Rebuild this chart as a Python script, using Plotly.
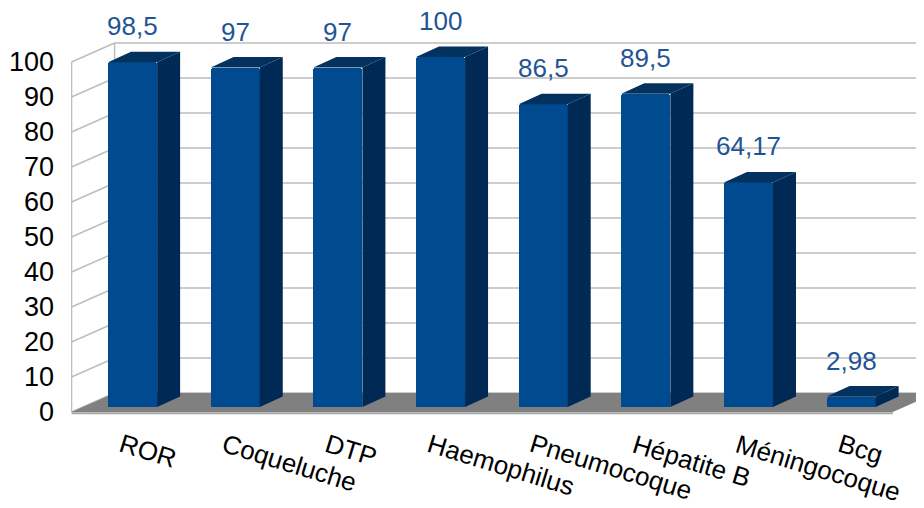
import plotly.graph_objects as go

# ---- data ----
categories = ["ROR", "Coqueluche", "DTP", "Haemophilus", "Pneumocoque",
              "Hépatite B", "Méningocoque", "Bcg"]
values = [98.5, 97, 97, 100, 86.5, 89.5, 64.17, 2.98]
value_labels = ["98,5", "97", "97", "100", "86,5", "89,5", "64,17", "2,98"]
y_ticks = [0, 10, 20, 30, 40, 50, 60, 70, 80, 90, 100]

# ---- pseudo-3D geometry (axis units) ----
FRONT = 1.4286     # front plane lies this far below the bar plane (value units)
BACK = 4.0         # back wall lies this far above the bar plane
WALL_FX = -0.5945  # left wall, front edge (category units)
WALL_BX = -0.1754  # left wall, back edge
FLOOR_FRX = 7.407  # floor right, front
FLOOR_BRX = 7.826  # floor right, back
BAR_W = 0.478
BAR_DX = 0.224
BAR_DY = 3.0

FRONT_COL = "#004a8f"
SIDE_COL = "#002a55"
TOP_COL = "#04325f"
GRID_COL = "#bdbdbd"
LABEL_COL = "#1f5596"
FONT = "Liberation Sans, Arial, sans-serif"

idx = list(range(len(categories)))
fig = go.Figure()

fig.add_trace(go.Bar(x=idx, y=values, width=BAR_W,
                     marker=dict(color=FRONT_COL, line=dict(width=0), cornerradius=3),
                     hoverinfo="skip", showlegend=False))

for i, v in zip(idx, values):
    r = i + BAR_W / 2
    l = i - BAR_W / 2
    # side face
    fig.add_trace(go.Scatter(x=[r, r + BAR_DX, r + BAR_DX, r, r],
                             y=[0, BAR_DY, v + BAR_DY, v, 0],
                             fill="toself", fillcolor=SIDE_COL, mode="lines",
                             line=dict(width=0, color=SIDE_COL), hoverinfo="skip", showlegend=False))
    # top face
    fig.add_trace(go.Scatter(x=[l, l + BAR_DX, r + BAR_DX, r, l],
                             y=[v, v + BAR_DY, v + BAR_DY, v, v],
                             fill="toself", fillcolor=TOP_COL, mode="lines",
                             line=dict(width=0, color=TOP_COL), hoverinfo="skip", showlegend=False))

shapes = []
for t in y_ticks:
    shapes.append(dict(type="line", xref="x", yref="y", x0=WALL_BX, x1=8.2, y0=t + BACK, y1=t + BACK,
                       line=dict(color=GRID_COL, width=1.5), layer="below"))
    shapes.append(dict(type="line", xref="x", yref="y", x0=WALL_FX, x1=WALL_BX, y0=t - FRONT, y1=t + BACK,
                       line=dict(color=GRID_COL, width=1.5), layer="below"))
top = y_ticks[-1]
shapes.append(dict(type="line", xref="x", yref="y", x0=WALL_FX, x1=WALL_FX, y0=-FRONT, y1=top - FRONT,
                   line=dict(color=GRID_COL, width=1.5), layer="below"))
shapes.append(dict(type="line", xref="x", yref="y", x0=WALL_BX, x1=WALL_BX, y0=BACK, y1=top + BACK,
                   line=dict(color=GRID_COL, width=1.5), layer="below"))
shapes.append(dict(type="path", xref="x", yref="y",
                   path=f"M {WALL_FX},{-FRONT} L {FLOOR_FRX},{-FRONT} L {FLOOR_BRX},{BACK} L {WALL_BX},{BACK} Z",
                   fillcolor="#808080", line=dict(width=0), layer="below"))
shapes.append(dict(type="line", xref="x", yref="y", x0=WALL_FX, x1=FLOOR_FRX, y0=-FRONT - 0.35, y1=-FRONT - 0.35,
                   line=dict(color="#a6a6a6", width=2), layer="below"))

annotations = []
for i, v, lab in zip(idx, values, value_labels):
    annotations.append(dict(x=i, y=v, xref="x", yref="y", text=lab, showarrow=False,
                            yshift=36, yanchor="middle", xanchor="center",
                            font=dict(family=FONT, size=26, color=LABEL_COL)))
for i, c in zip(idx, categories):
    annotations.append(dict(x=i, y=-5.43, xref="x", yref="y", text=c, showarrow=False,
                            xshift=-19, xanchor="left", yanchor="top", textangle=17,
                            font=dict(family=FONT, size=26, color="#000000")))

fig.update_layout(
    width=916, height=500,
    margin=dict(l=63, r=0, t=0, b=0),
    paper_bgcolor="white", plot_bgcolor="white",
    shapes=shapes, annotations=annotations,
    bargap=0,
    xaxis=dict(range=[-0.6, 7.71], showgrid=False, zeroline=False, showticklabels=False,
               showline=False, ticks=""),
    yaxis=dict(range=[-28.857, 114.0], showgrid=False, zeroline=False, showline=False,
               tickmode="array", tickvals=[t - FRONT for t in y_ticks], ticktext=[str(t) for t in y_ticks],
               ticks="", ticklabelstandoff=16,
               tickfont=dict(family=FONT, size=27, color="#000000")),
)

fig.write_html("out.html")
